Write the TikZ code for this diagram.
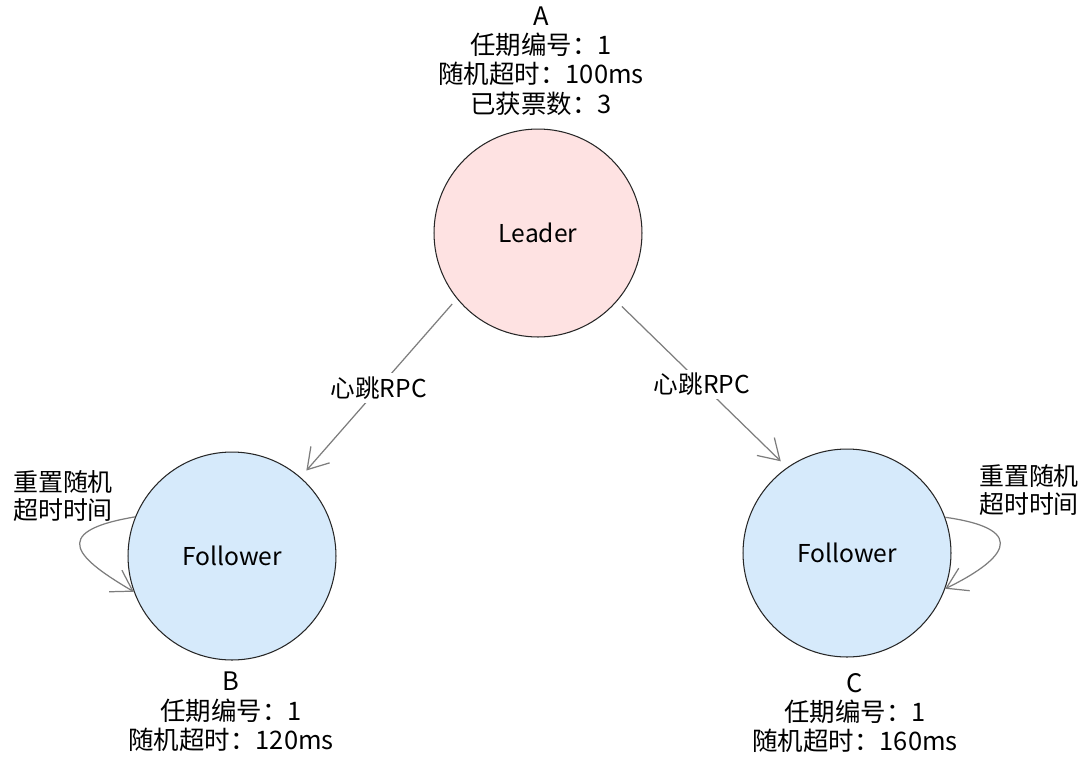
\documentclass[tikz,border=0pt]{standalone}
\usepackage{fontspec}
\newfontfamily\cjk{Noto Sans CJK SC}
\usetikzlibrary{arrows.meta}
\definecolor{leaderfill}{RGB}{254,226,226}
\definecolor{followerfill}{RGB}{214,234,251}
\definecolor{beatgray}{RGB}{125,125,125}

\begin{document}
\begin{tikzpicture}[x=0.02cm, y=-0.02cm,
	state/.style={circle, draw=black!85, line width=0.6pt, minimum size=4.16cm, inner sep=0pt, font=\cjk\fontsize{14}{16}\selectfont},
	info/.style={align=center, inner sep=0pt, font=\cjk\fontsize{14.5}{16.7}\selectfont},
	beat/.style={draw=beatgray, line width=0.7pt, -{Straight Barb[length=4mm,width=5mm]}},
	beatlabel/.style={fill=white, inner sep=2pt, font=\cjk\fontsize{14}{16}\selectfont}
	]
	\useasboundingbox (0,0) rectangle (1086,779);
	\node[state, fill=leaderfill] (leader) at (538,233) {Leader};
	\node[state, fill=followerfill] (followerB) at (232,556) {Follower};
	\node[state, fill=followerfill] (followerC) at (847,553) {Follower};
	\node[info] (infoA) at (541,61) {A\\任期编号：1\\随机超时：100ms\\已获票数：3};
	\node[info] (infoB) at (231,712) {B\\任期编号：1\\随机超时：120ms};
	\node[info] (infoC) at (855,713) {C\\任期编号：1\\随机超时：160ms};
	\node[info, font=\cjk\fontsize{14.2}{15.6}\selectfont] (resetB) at (63,496) {重置随机\\超时时间};
	\node[info, font=\cjk\fontsize{14.2}{15.6}\selectfont] (resetC) at (1029,490) {重置随机\\超时时间};
	\draw[beat, shorten <=4pt, shorten >=5pt] (leader.219) -- node[beatlabel] {心跳RPC} (followerB.49);
	\draw[beat, shorten <=4pt, shorten >=5pt] (leader.319) -- node[beatlabel] {心跳RPC} (followerC.125);
	\draw[beat] (followerB.158) .. controls (45,532) and (80,560) .. (followerB.200);
	\draw[beat] (followerC.20) .. controls (1035,530) and (1000,562) .. (followerC.-20);
\end{tikzpicture}
\end{document}
